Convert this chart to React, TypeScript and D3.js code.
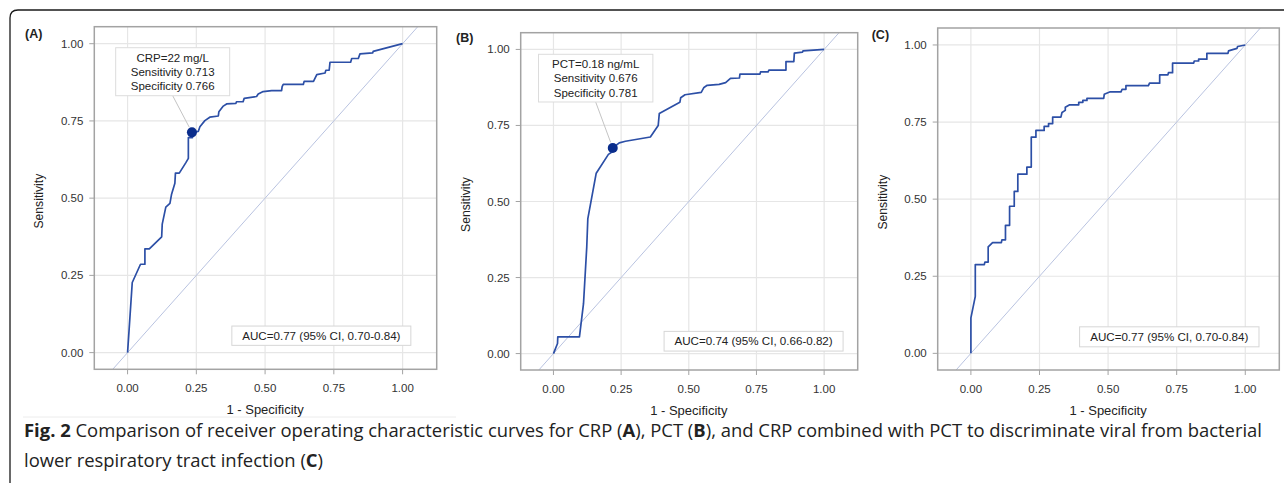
import React from 'react';
import * as d3 from 'd3';

// ---------- data ----------
const tickValues = [0, 0.25, 0.5, 0.75, 1];
const tickLabels = ['0.00', '0.25', '0.50', '0.75', '1.00'];

// Panel A: CRP
const crpFpr = [0, 0.017, 0.047, 0.063, 0.063, 0.079, 0.124, 0.126, 0.139, 0.154, 0.160, 0.172, 0.174, 0.188, 0.212, 0.221, 0.221, 0.236, 0.236, 0.257, 0.263, 0.281, 0.299, 0.330, 0.332, 0.348, 0.360, 0.394, 0.396, 0.420, 0.424, 0.469, 0.475, 0.493, 0.524, 0.560, 0.562, 0.566, 0.639, 0.642, 0.676, 0.688, 0.718, 0.721, 0.733, 0.736, 0.811, 0.815, 0.839, 0.845, 0.891, 0.893, 1.0];
const crpTpr = [0, 0.227, 0.286, 0.286, 0.336, 0.336, 0.375, 0.416, 0.471, 0.483, 0.513, 0.548, 0.581, 0.581, 0.615, 0.629, 0.696, 0.696, 0.713, 0.716, 0.731, 0.751, 0.762, 0.766, 0.780, 0.798, 0.805, 0.807, 0.812, 0.812, 0.823, 0.829, 0.837, 0.845, 0.848, 0.848, 0.861, 0.868, 0.868, 0.878, 0.878, 0.900, 0.905, 0.914, 0.914, 0.940, 0.940, 0.952, 0.952, 0.967, 0.970, 0.975, 1.0];

// Panel B: PCT
const pctFpr = [0, 0.015, 0.016, 0.096, 0.111, 0.123, 0.127, 0.158, 0.203, 0.212, 0.219, 0.243, 0.266, 0.358, 0.387, 0.391, 0.467, 0.470, 0.486, 0.546, 0.556, 0.568, 0.612, 0.636, 0.654, 0.687, 0.689, 0.763, 0.765, 0.793, 0.796, 0.859, 0.859, 0.888, 0.890, 0.920, 0.922, 1.0];
const pctTpr = [0, 0.033, 0.055, 0.055, 0.164, 0.350, 0.444, 0.593, 0.655, 0.660, 0.676, 0.693, 0.698, 0.712, 0.750, 0.789, 0.826, 0.841, 0.851, 0.859, 0.875, 0.882, 0.885, 0.891, 0.905, 0.906, 0.919, 0.919, 0.926, 0.926, 0.932, 0.932, 0.960, 0.960, 0.988, 0.991, 0.995, 1.0];

// Panel C: CRP + PCT
const comboFpr = [0, 0, 0.016, 0.016, 0.049, 0.051, 0.063, 0.063, 0.079, 0.111, 0.113, 0.126, 0.126, 0.141, 0.141, 0.158, 0.158, 0.171, 0.171, 0.204, 0.204, 0.220, 0.220, 0.237, 0.237, 0.267, 0.267, 0.283, 0.283, 0.298, 0.298, 0.328, 0.332, 0.344, 0.344, 0.360, 0.393, 0.393, 0.408, 0.408, 0.423, 0.423, 0.484, 0.486, 0.508, 0.547, 0.551, 0.565, 0.565, 0.647, 0.651, 0.688, 0.688, 0.718, 0.720, 0.735, 0.735, 0.812, 0.814, 0.830, 0.830, 0.860, 0.860, 0.937, 0.939, 0.951, 0.970, 0.972, 1.0];
const comboTpr = [0, 0.115, 0.185, 0.288, 0.288, 0.296, 0.296, 0.345, 0.359, 0.359, 0.368, 0.368, 0.415, 0.415, 0.477, 0.477, 0.525, 0.525, 0.581, 0.581, 0.604, 0.604, 0.701, 0.701, 0.723, 0.723, 0.736, 0.736, 0.745, 0.745, 0.766, 0.766, 0.781, 0.788, 0.798, 0.806, 0.806, 0.814, 0.814, 0.820, 0.820, 0.827, 0.827, 0.840, 0.848, 0.848, 0.856, 0.856, 0.868, 0.868, 0.876, 0.876, 0.903, 0.903, 0.910, 0.910, 0.941, 0.941, 0.948, 0.948, 0.954, 0.954, 0.973, 0.973, 0.981, 0.984, 0.989, 0.995, 1.0];

// Optimal cut-off points (1 - specificity, sensitivity)
const crpCut = [1 - 0.766, 0.713];
const pctCut = [1 - 0.781, 0.676];
const crpCutLines = ['CRP=22 mg/L', 'Sensitivity 0.713', 'Specificity 0.766'];
const pctCutLines = ['PCT=0.18 ng/mL', 'Sensitivity 0.676', 'Specificity 0.781'];

const aucTexts = ['AUC=0.77 (95% CI, 0.70-0.84)', 'AUC=0.74 (95% CI, 0.66-0.82)', 'AUC=0.77 (95% CI, 0.70-0.84)'];
const panelLabels = ['(A)', '(B)', '(C)'];

// ---------- layout ----------
const W = 1284;
const H = 483;
const X_DOMAIN = [-0.121, 1.124];
const Y_DOMAIN = [-0.054, 1.055];
const FONT = '"Liberation Sans", Arial, sans-serif';
const CURVE = '#2c4fa6';
const DOT = '#0a2d8c';
const CAP_FONT = '"Open Sans", "Noto Sans", sans-serif';
const CAP_SIZE = 18.5;
const CAP_LINE1_WIDTH = 1238;

const panels = [
  {
    frame: { l: 94.3, t: 26.7, r: 436.7, b: 369.3 }, fpr: crpFpr, tpr: crpTpr,
    cut: crpCut, cutLines: crpCutLines, callout: { cx: 0.164, top: 0.987, w: 114, h: 48 },
    auc: { right: 1.030, top: 0.086, w: 179, h: 19.3 }, label: { x: 25, y: 38 },
  },
  {
    frame: { l: 520.7, t: 32.7, r: 857.7, b: 370 }, fpr: pctFpr, tpr: pctTpr,
    cut: pctCut, cutLines: pctCutLines, callout: { cx: 0.156, top: 0.984, w: 114.4, h: 47.7 },
    auc: { right: 1.070, top: 0.073, w: 179, h: 19.7 }, label: { x: 456, y: 42 },
  },
  {
    frame: { l: 937.7, t: 28, r: 1279.3, b: 370 }, fpr: comboFpr, tpr: comboTpr,
    cut: null, cutLines: null, callout: null,
    auc: { right: 1.050, top: 0.086, w: 179.4, h: 20 }, label: { x: 871.7, y: 39 },
  },
];

function Panel({ p, i }: { p: any; i: number }) {
  const { l, t, r, b } = p.frame;
  const x = d3.scaleLinear().domain(X_DOMAIN).range([l, r]);
  const y = d3.scaleLinear().domain(Y_DOMAIN).range([b, t]);
  const pts: [number, number][] = p.fpr.map((f: number, k: number) => [f, p.tpr[k]]);
  const line = d3.line<[number, number]>().x((d) => x(d[0])).y((d) => y(d[1]));
  const clipId = `clip-${i}`;
  const xMid = (x(0) + x(1)) / 2;
  const yMid = (y(0) + y(1)) / 2 + 3;

  let callout = null;
  if (p.callout) {
    const c = p.callout;
    const bx = x(c.cx) - c.w / 2;
    const by = y(c.top);
    const dx = x(p.cut[0]);
    const dy = y(p.cut[1]);
    const sx = x(c.cx);
    const sy = by + c.h;
    const ang = Math.atan2(dy - sy, dx - sx);
    callout = (
      <g>
        <line x1={sx} y1={sy} x2={dx - Math.cos(ang) * 6} y2={dy - Math.sin(ang) * 6} stroke="#c4c4c4" strokeWidth={1} />
        <rect x={bx} y={by} width={c.w} height={c.h} fill="#fff" stroke="#dcdcdc" strokeWidth={1} />
        {p.cutLines.map((s: string, k: number) => (
          <text key={k} x={sx} y={by + 14 + k * 14.2} textAnchor="middle" fontSize={11.5} fill="#222" fontFamily={FONT}>{s}</text>
        ))}
      </g>
    );
  }

  const a = p.auc;
  const ax = x(a.right) - a.w;
  const ay = y(a.top);

  return (
    <g>
      <defs>
        <clipPath id={clipId}>
          <rect x={l} y={t} width={r - l} height={b - t} />
        </clipPath>
      </defs>
      <rect x={l} y={t} width={r - l} height={b - t} fill="#fff" />
      {tickValues.map((v) => (
        <g key={'g' + v}>
          <line x1={x(v)} x2={x(v)} y1={t} y2={b} stroke="#e6e6e6" strokeWidth={1.2} />
          <line x1={l} x2={r} y1={y(v)} y2={y(v)} stroke="#e6e6e6" strokeWidth={1.2} />
        </g>
      ))}
      <g clipPath={`url(#${clipId})`}>
        <line x1={x(-0.3)} y1={y(-0.3)} x2={x(1.3)} y2={y(1.3)} stroke="#b9c3e0" strokeWidth={1} />
        <path d={line(pts) || ''} fill="none" stroke={CURVE} strokeWidth={1.7} strokeLinejoin="round" />
      </g>
      {p.cut && <circle cx={x(p.cut[0])} cy={y(p.cut[1])} r={5} fill={DOT} />}
      {callout}
      <rect x={ax} y={ay} width={a.w} height={a.h} fill="#fff" stroke="#d6d6d6" strokeWidth={1} />
      <text x={ax + a.w / 2} y={ay + a.h / 2 + 4} textAnchor="middle" fontSize={11.6} fill="#222" fontFamily={FONT}>{aucTexts[i]}</text>
      <rect x={l} y={t} width={r - l} height={b - t} fill="none" stroke="#a3a3a3" strokeWidth={1.5} />
      {tickValues.map((v, k) => (
        <g key={'t' + v}>
          <line x1={x(v)} x2={x(v)} y1={b} y2={b + 5} stroke="#a3a3a3" strokeWidth={1} />
          <text x={x(v)} y={b + 22.5} textAnchor="middle" fontSize={11.5} fill="#333" fontFamily={FONT}>{tickLabels[k]}</text>
          <line x1={l - 5} x2={l} y1={y(v)} y2={y(v)} stroke="#a3a3a3" strokeWidth={1} />
          <text x={l - 11} y={y(v) + 4} textAnchor="end" fontSize={11.5} fill="#333" fontFamily={FONT}>{tickLabels[k]}</text>
        </g>
      ))}
      <text x={xMid} y={b + 45} textAnchor="middle" fontSize={13} fill="#222" fontFamily={FONT}>1 - Specificity</text>
      <text transform={`translate(${l - 51},${yMid}) rotate(-90)`} textAnchor="middle" fontSize={12.2} fill="#222" fontFamily={FONT}>Sensitivity</text>
      <text x={p.label.x} y={p.label.y} fontSize={12.5} fontWeight="bold" fill="#222" fontFamily={FONT}>{panelLabels[i]}</text>
    </g>
  );
}

export default function App() {
  const l1 = React.useRef<SVGTextElement>(null);
  const l2 = React.useRef<SVGTextElement>(null);
  const [fit, setFit] = React.useState<{ w1: number; w2: number } | null>(null);

  React.useLayoutEffect(() => {
    const measure = () => {
      if (l1.current && l2.current && !fit) {
        const w1 = l1.current.getComputedTextLength();
        const w2 = l2.current.getComputedTextLength();
        if (w1 > 0) {
          const k = CAP_LINE1_WIDTH / w1;
          setFit({ w1: CAP_LINE1_WIDTH, w2: w2 * k });
        }
      }
    };
    measure();
    if ((document as any).fonts && (document as any).fonts.ready) {
      (document as any).fonts.ready.then(() => measure());
    }
  }, [fit]);

  const lenProps1: any = fit ? { textLength: fit.w1, lengthAdjust: 'spacingAndGlyphs' } : {};
  const lenProps2: any = fit ? { textLength: fit.w2, lengthAdjust: 'spacingAndGlyphs' } : {};

  return (
    <svg width={W} height={H} style={{ position: 'absolute', left: 0, top: 0, background: '#fff' }}>
      <rect x={0} y={0} width={W} height={H} fill="#fff" />
      <path d={`M10,${H + 2} V18 Q10,10 18,10 H${W + 2}`} fill="none" stroke="#1a1a1a" strokeWidth={1.3} />
      <line x1={23} x2={456} y1={417} y2={417} stroke="#ececec" strokeWidth={1} />
      {panels.map((p, i) => <Panel key={i} p={p} i={i} />)}
      <text ref={l1} x={24} y={437} fontSize={CAP_SIZE} fill="#222" fontFamily={CAP_FONT} {...lenProps1}>
        <tspan fontWeight="bold">Fig. 2</tspan>
        <tspan>{'  Comparison of receiver operating characteristic curves for CRP ('}</tspan>
        <tspan fontWeight="bold">A</tspan>
        <tspan>{'), PCT ('}</tspan>
        <tspan fontWeight="bold">B</tspan>
        <tspan>{'), and CRP combined with PCT to discriminate viral from bacterial'}</tspan>
      </text>
      <text ref={l2} x={24} y={467} fontSize={CAP_SIZE} fill="#222" fontFamily={CAP_FONT} {...lenProps2}>
        <tspan>{'lower respiratory tract infection ('}</tspan>
        <tspan fontWeight="bold">C</tspan>
        <tspan>{')'}</tspan>
      </text>
    </svg>
  );
}
